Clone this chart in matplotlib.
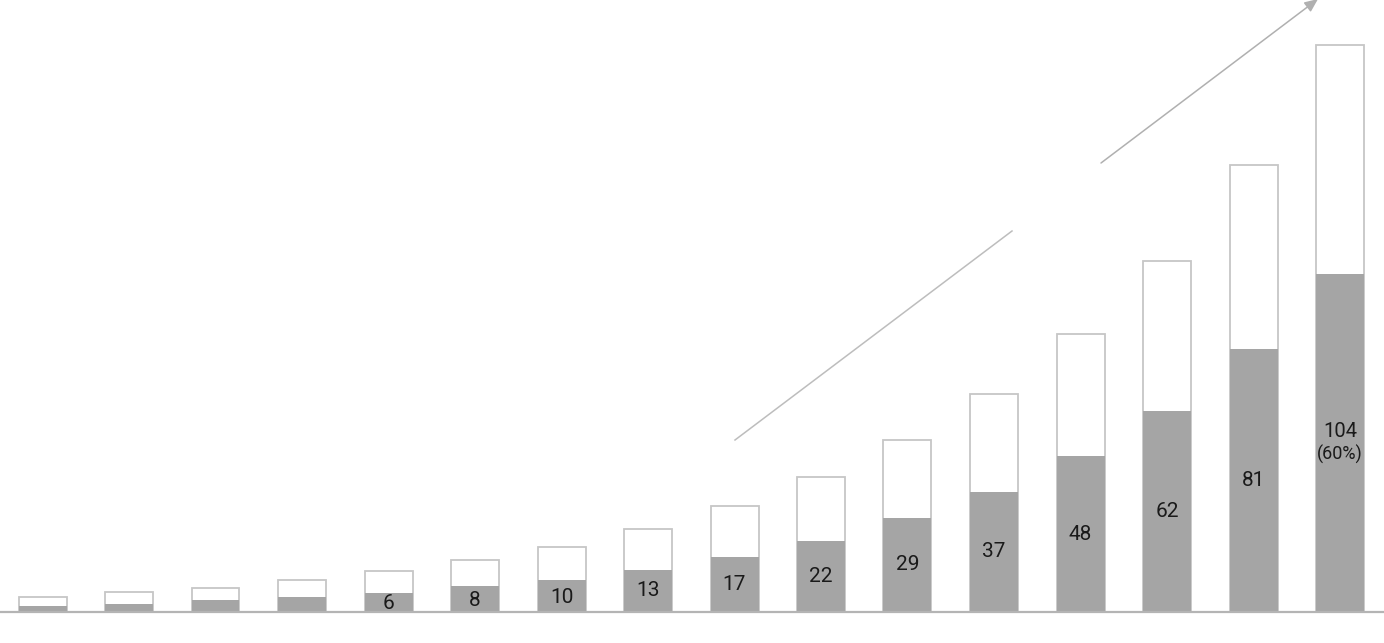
import matplotlib
matplotlib.use("Agg")
import matplotlib.pyplot as plt
import numpy as np

plt.rcParams['font.family'] = ['Roboto', 'DejaVu Sans']

# data
values = [2, 2.6, 3.6, 4.6, 6, 8, 10, 13, 17, 22, 29, 37, 48, 62, 81, 104]
totals = [4.7, 6.2, 7.5, 9.9, 12.5, 15.9, 20.1, 25.6, 32.7, 41.5, 52.9, 67, 85.5, 108, 137.5, 174.5]
labels = ["", "", "", "", "6", "8", "10", "13", "17", "22", "29", "37", "48", "62", "81", "104"]
last_share = "(60%)"

W, H = 1384, 643
fig = plt.figure(figsize=(W / 100, H / 100), dpi=100)
ax = fig.add_axes([0, 0, 1, 1])
ax.set_axis_off()

x = np.arange(len(values))
pitch = 86.5
x0 = 42.5
ax.set_xlim(-x0 / pitch, (W - x0) / pitch)
scale = 3.25
base = 612
ax.set_ylim(-(H - base) / scale, base / scale)

bw = 48 / pitch
ax.bar(x, totals, width=bw, color="white", edgecolor="#c6c6c6", linewidth=1.3, zorder=2)
ax.bar(x, values, width=bw, color="#a5a5a5", edgecolor="none", linewidth=0, zorder=3)

ax.axhline(0, color="#b4b4b4", linewidth=1.6, zorder=4)

for i, (v, lab) in enumerate(zip(values, labels)):
    if not lab:
        continue
    if i == len(values) - 1:
        ax.text(i, v / 2 + 3.5, lab, ha="center", va="center", fontsize=14.5, color="#1a1a1a", zorder=5)
        ax.text(i, v / 2 - 3.6, last_share, ha="center", va="center", fontsize=13, color="#1a1a1a", zorder=5)
    else:
        ax.text(i, v / 2 - (0.4 if v < 12 else 0), lab, ha="center", va="center", fontsize=15,
                color="#1a1a1a", zorder=5)

# trend arrow (decorative, in figure pixel coordinates)
def fc(px, py):
    return (px / W, 1 - py / H)

ax.plot(*zip(fc(735, 440), fc(1012, 231)), transform=ax.transAxes, color="#bdbdbd", lw=1.1, zorder=1)
ax.annotate("", xy=fc(1318, -1), xytext=fc(1101, 163), xycoords="axes fraction",
            textcoords="axes fraction",
            arrowprops=dict(arrowstyle="-|>,head_length=0.8,head_width=0.35", color="#b0b0b0", lw=1.1,
                            shrinkA=0, shrinkB=0))

fig.savefig("out.png", dpi=100)
